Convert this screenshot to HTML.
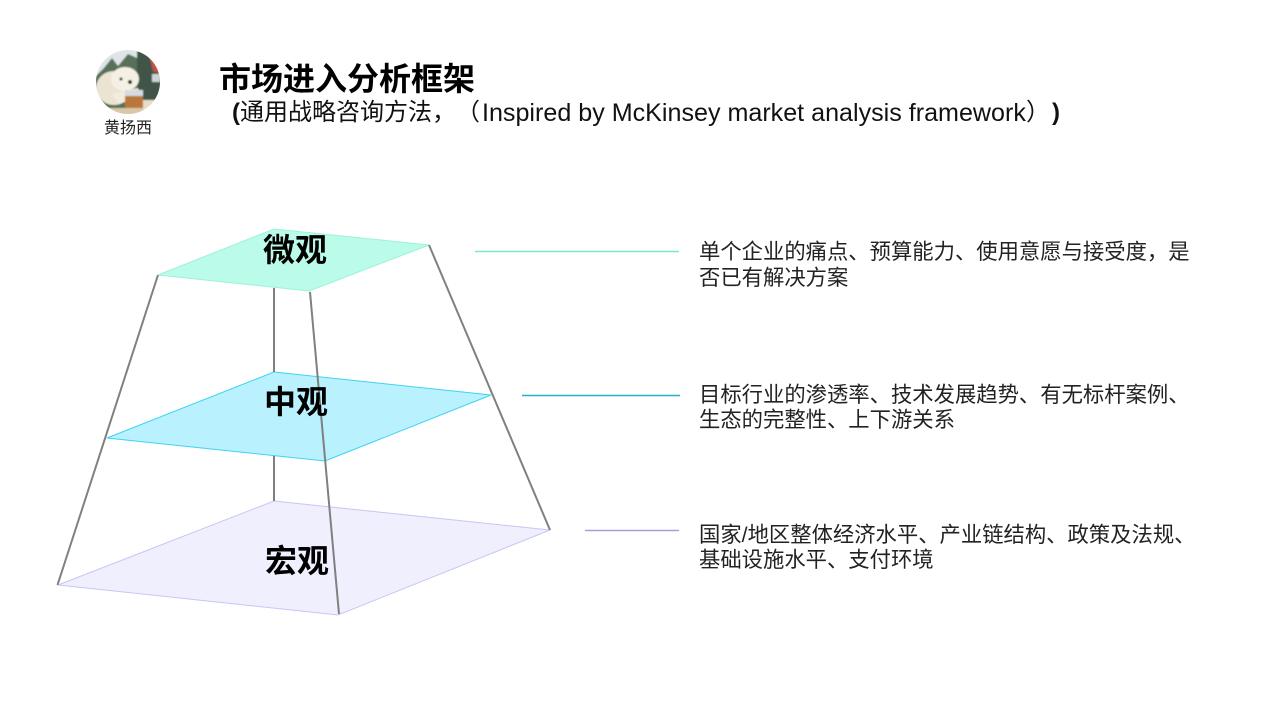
<!DOCTYPE html>
<html><head><meta charset="utf-8"><style>
html,body{margin:0;padding:0;background:#fff}
#p{position:relative;width:1280px;height:720px;overflow:hidden;background:#fff;font-family:"Liberation Sans","Noto Sans CJK SC",sans-serif;color:#000;text-spacing-trim:space-all}
.t{position:absolute;white-space:nowrap}
.b{font-size:21.33px;line-height:25.6px;left:699px;color:#222;text-spacing-trim:space-all}
.l{font-size:32px;font-weight:bold;line-height:40px}
.s{font-size:24px;line-height:30px;top:98px;color:#111}
svg{position:absolute;left:0;top:0}
</style></head><body><div id="p">
<svg width="1280" height="720">
<defs><clipPath id="c"><circle cx="128" cy="82" r="32"/></clipPath><filter id="f"><feGaussianBlur stdDeviation="0.9"/></filter></defs>
<g clip-path="url(#c)"><g filter="url(#f)">
<rect x="90" y="44" width="76" height="76" fill="#56705a"/>
<path d="M90 44h76v10l-20-2-9 6-9-4-10 12-6-8-8 10-14 14z" fill="#dfe5e6"/>
<path d="M137 44h29v76h-29z" fill="#3f5547"/>
<path d="M150 58l12 0 0 16-9-3z" fill="#c9504a"/>
<rect x="152" y="74" width="8" height="8" fill="#cdd3d3"/>
<ellipse cx="114" cy="88" rx="18" ry="17" fill="#ece4d2"/>
<ellipse cx="125" cy="79" rx="14" ry="12" fill="#f5f0e4"/>
<path d="M112 94l26-6 3 8-22 8z" fill="#f2ecdc"/>
<circle cx="121" cy="79" r="1.5" fill="#222"/><circle cx="130" cy="82" r="2" fill="#222"/>
<rect x="125" y="96" width="18" height="14" fill="#b9773a"/>
<rect x="125" y="90" width="18" height="6" fill="#d5dbe2"/>
<rect x="90" y="108" width="76" height="8" fill="#d8c8aa"/>
<rect x="143" y="100" width="12" height="10" fill="#e8dcc6"/>
</g></g>
<polygon points="274,229 429,245 309,291 158,275" fill="#bbfbe9" stroke="#9cf2d8" stroke-width="1"/>
<polygon points="274,372 491,395 325,461 107,438" fill="#b9f1fe" stroke="#3fd3f2" stroke-width="1"/>
<polygon points="274,501 550,530 338,615 58,585" fill="#efeffe" stroke="#c9c6f3" stroke-width="1"/>
<g stroke="#808080" stroke-width="2" fill="none">
<line x1="158" y1="275" x2="57.500" y2="585"/>
<line x1="429" y1="245" x2="550" y2="530"/>
<line x1="274" y1="288" x2="274" y2="372"/>
<line x1="274" y1="456" x2="274" y2="501"/>
<line x1="310" y1="292" x2="339" y2="614"/>
</g>
<line x1="475" y1="251.500" x2="679" y2="251.500" stroke="#7fe8c4" stroke-width="1.4"/>
<line x1="522" y1="395.500" x2="680" y2="395.500" stroke="#2aaed0" stroke-width="1.4"/>
<line x1="585" y1="530.500" x2="679" y2="530.500" stroke="#a79ce0" stroke-width="1.4"/>
</svg>
<div class="t" style="left:104px;top:120px;font-size:16px;line-height:18px;color:#222">黄扬西</div>
<div class="t" style="left:219px;top:59px;font-size:32px;font-weight:bold;line-height:40px">市场进入分析框架</div>
<div class="t s" style="left:232px;font-weight:bold">(</div>
<div class="t s" style="left:240px">通用战略咨询方法，</div>
<div class="t s" style="left:456px">（</div>
<div class="t s" style="left:482px;font-size:25.1px">Inspired by McKinsey market analysis framework</div>
<div class="t s" style="left:1026px">）</div>
<div class="t s" style="left:1052px;font-weight:bold">)</div>
<div class="t l" style="left:263px;top:230px">微观</div>
<div class="t l" style="left:264px;top:382px">中观</div>
<div class="t l" style="left:265px;top:541px">宏观</div>
<div class="t b" style="top:240px">单个企业的痛点、预算能力、使用意愿与接受度，是<br>否已有解决方案</div>
<div class="t b" style="top:382.500px">目标行业的渗透率、技术发展趋势、有无标杆案例、<br>生态的完整性、上下游关系</div>
<div class="t b" style="top:522.500px">国家/地区整体经济水平、产业链结构、政策及法规、<br>基础设施水平、支付环境</div>
</div></body></html>
